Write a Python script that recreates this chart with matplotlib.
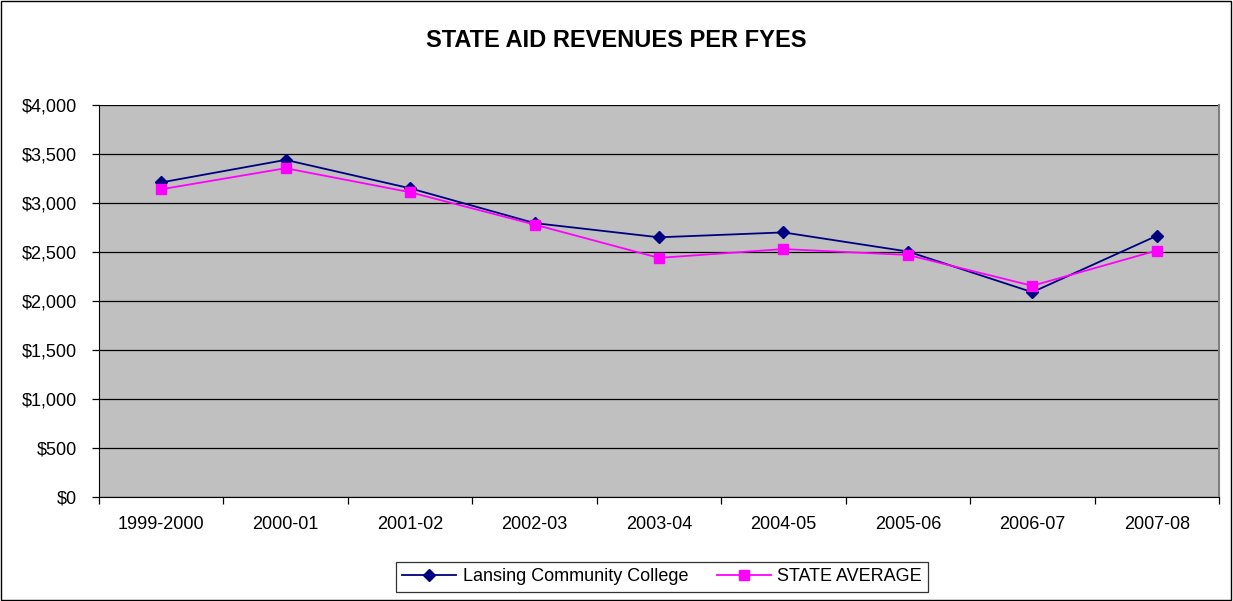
import matplotlib.pyplot as plt
from matplotlib.patches import Rectangle
from matplotlib.ticker import FuncFormatter

years = ['1999-2000', '2000-01', '2001-02', '2002-03', '2003-04',
         '2004-05', '2005-06', '2006-07', '2007-08']
lansing = [3210, 3440, 3150, 2795, 2650, 2700, 2505, 2090, 2665]
state_avg = [3140, 3355, 3110, 2780, 2440, 2530, 2470, 2155, 2515]

plt.rcParams['font.family'] = ['Liberation Sans', 'DejaVu Sans']

fig = plt.figure(figsize=(12.33, 6.01), dpi=100)
ax = fig.add_axes([0.0803, 0.173, 0.9083, 0.6523])
ax.set_facecolor('#C0C0C0')

x = range(len(years))
ax.plot(x, lansing, color='#000080', lw=1.3, marker='D', ms=6,
        label='Lansing Community College', zorder=3)
ax.plot(x, state_avg, color='#FF00FF', lw=1.3, marker='s', ms=6.5,
        label='STATE AVERAGE', zorder=3)

ax.set_xlim(-0.5, len(years) - 0.5)
ax.set_ylim(0, 4000)
ax.set_yticks(range(0, 4001, 500))
ax.yaxis.set_major_formatter(FuncFormatter(lambda v, p: '${:,.0f}'.format(v)))
ax.grid(axis='y', color='#000000', lw=0.9, zorder=1)
ax.set_axisbelow(True)

# category labels sit between the boundary tick marks
ax.set_xticks([i - 0.5 for i in range(len(years) + 1)])
ax.set_xticklabels([])
ax.set_xticks(list(x), minor=True)
ax.set_xticklabels(years, minor=True)
ax.tick_params(axis='x', which='minor', length=0, pad=14, labelsize=13)
ax.tick_params(axis='x', which='major', length=5, width=0.9, direction='out')
ax.tick_params(axis='y', length=5, width=0.9, direction='out', labelsize=13, pad=11)

ax.spines['top'].set_visible(False)
ax.spines['right'].set_color('#808080')
ax.spines['right'].set_linewidth(1.5)
ax.spines['left'].set_color('black')
ax.spines['bottom'].set_color('black')

fig.text(0.5, 0.932, 'STATE AID REVENUES PER FYES', ha='center', va='center',
         fontsize=17, fontweight='bold')

leg = fig.legend(loc='center', bbox_to_anchor=(0.537, 0.04), ncol=2,
                 fontsize=13, frameon=True, fancybox=False, edgecolor='black',
                 borderpad=0.35, handlelength=3, columnspacing=1.6,
                 handletextpad=0.35)
leg.get_frame().set_linewidth(0.9)

fig.patches.append(Rectangle((0.001, 0.001), 0.997, 0.997, transform=fig.transFigure,
                             fill=False, edgecolor='black', lw=1))

fig.savefig('out.png', dpi=100)
